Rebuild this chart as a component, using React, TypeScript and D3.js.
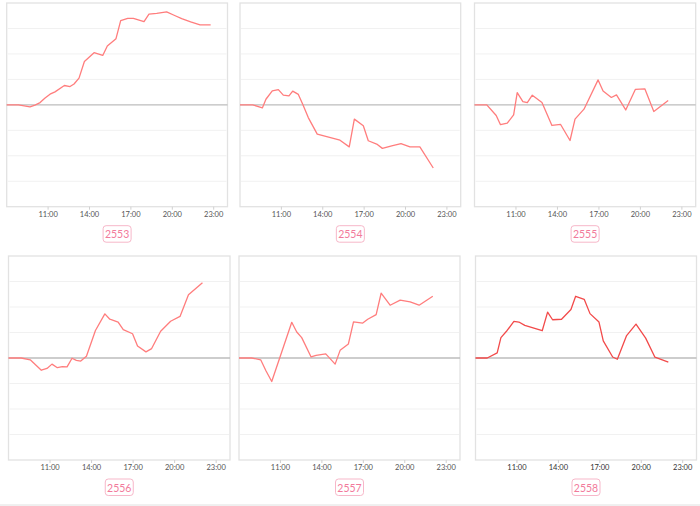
import React from "react";
import * as d3 from "d3";

// ---- data ----
const categories = ["2553", "2554", "2555", "2556", "2557", "2558"];
const tickHours = [11, 14, 17, 20, 23];
const tickLabels = ["11:00", "14:00", "17:00", "20:00", "23:00"];

const t2553 = [8.0, 8.85, 9.69, 10.05, 10.42, 10.78, 11.14, 11.5, 12.18, 12.59, 12.88, 13.24, 13.63, 14.33, 14.96, 15.29, 15.92, 16.26, 16.77, 17.18, 17.95, 18.31, 18.87, 19.59, 20.13, 20.68, 21.33, 22.01, 22.78];
const v2553 = [0, 0, -0.08, -0.01, 0.09, 0.27, 0.42, 0.51, 0.76, 0.72, 0.82, 1.05, 1.7, 2.05, 1.94, 2.31, 2.6, 3.31, 3.4, 3.4, 3.27, 3.56, 3.59, 3.65, 3.52, 3.39, 3.26, 3.14, 3.14];

const t2554 = [8.0, 8.92, 9.62, 9.88, 10.34, 10.78, 11.14, 11.55, 11.82, 12.23, 12.54, 12.95, 13.6, 15.25, 15.92, 16.29, 16.94, 17.3, 17.91, 18.32, 19.0, 19.67, 20.32, 21.04, 22.01];
const v2554 = [0, 0, -0.12, 0.22, 0.55, 0.6, 0.38, 0.35, 0.54, 0.41, 0.03, -0.5, -1.15, -1.39, -1.65, -0.56, -0.82, -1.41, -1.54, -1.71, -1.61, -1.52, -1.65, -1.65, -2.48];

const t2555 = [8.0, 8.89, 9.57, 9.88, 10.37, 10.83, 11.09, 11.5, 11.82, 12.18, 12.88, 13.6, 14.23, 14.91, 15.27, 15.92, 16.94, 17.3, 17.9, 18.27, 18.94, 19.64, 20.32, 20.97, 22.01];
const v2555 = [0, 0, -0.42, -0.78, -0.72, -0.39, 0.48, 0.13, 0.09, 0.38, 0.09, -0.81, -0.77, -1.4, -0.56, -0.17, 0.98, 0.54, 0.29, 0.39, -0.2, 0.61, 0.63, -0.26, 0.17];

const t2556 = [8.0, 8.92, 9.57, 10.37, 10.78, 11.14, 11.53, 11.89, 12.23, 12.59, 12.9, 13.22, 13.63, 14.28, 14.96, 15.32, 15.92, 16.29, 16.96, 17.32, 17.93, 18.34, 18.99, 19.71, 20.39, 21.0, 22.01];
const v2556 = [0, 0, -0.07, -0.48, -0.41, -0.24, -0.38, -0.34, -0.35, -0.01, -0.09, -0.12, 0.07, 1.08, 1.73, 1.52, 1.41, 1.11, 0.95, 0.47, 0.24, 0.37, 1.05, 1.44, 1.63, 2.48, 2.95];

const t2557 = [8.0, 8.92, 9.57, 9.96, 10.37, 10.97, 11.82, 12.18, 12.54, 13.22, 13.58, 14.28, 14.96, 15.32, 15.92, 16.29, 16.96, 17.32, 17.93, 18.29, 18.94, 19.67, 20.39, 21.04, 22.03];
const v2557 = [0, 0, -0.07, -0.51, -0.92, 0.04, 1.4, 1.02, 0.8, 0.04, 0.1, 0.16, -0.24, 0.3, 0.55, 1.42, 1.37, 1.52, 1.7, 2.54, 2.07, 2.27, 2.2, 2.07, 2.42];

const t2558 = [8.0, 8.85, 9.57, 9.84, 10.29, 10.78, 11.14, 11.57, 12.83, 13.22, 13.58, 14.23, 14.91, 15.25, 15.87, 16.29, 16.94, 17.25, 17.93, 18.27, 18.94, 19.62, 20.32, 20.99, 21.96];
const v2558 = [0, 0, 0.2, 0.8, 1.08, 1.44, 1.41, 1.28, 1.07, 1.8, 1.5, 1.52, 1.9, 2.42, 2.3, 1.74, 1.41, 0.67, 0.04, -0.05, 0.88, 1.33, 0.78, 0.03, -0.16];

const seriesTimes = [t2553, t2554, t2555, t2556, t2557, t2558];
const seriesValues = [v2553, v2554, v2555, v2556, v2557, v2558];

// ---- layout ----
const W = 700;
const H = 506;
const frames = [
  { x0: 6.7, x1: 227.5, y0: 3, y1: 206.7 },
  { x0: 240, x1: 460.7, y0: 3, y1: 206.7 },
  { x0: 474.5, x1: 695.7, y0: 3, y1: 206.7 },
  { x0: 8.5, x1: 230, y0: 256, y1: 460 },
  { x0: 239, x1: 460, y0: 256, y1: 460 },
  { x0: 475.5, x1: 696.5, y0: 256, y1: 460 },
];
const lineColors = ["#ff7d7d", "#ff7d7d", "#ff7d7d", "#ff7d7d", "#ff7d7d", "#f24a4a"];
const tickColors = ["#555", "#555", "#555", "#555", "#555", "#333"];

function Panel({ i }: { i: number }) {
  const f = frames[i];
  const x = d3.scaleLinear().domain([8, 24]).range([f.x0, f.x1]);
  const y = d3.scaleLinear().domain([-4, 4]).range([f.y1, f.y0]);
  const pts: [number, number][] = seriesTimes[i].map((t, k) => [t, seriesValues[i][k]]);
  const line = d3
    .line<[number, number]>()
    .x((d) => x(d[0]))
    .y((d) => y(d[1]));
  const grid = d3.range(-3, 4).filter((g) => g !== 0);
  const cx = (f.x0 + f.x1) / 2;
  const by = f.y1 + 27;
  return (
    <g>
      <rect x={f.x0} y={f.y0} width={f.x1 - f.x0} height={f.y1 - f.y0} fill="#fff" stroke="#e2e2e2" strokeWidth={1.3} />
      {grid.map((g) => (
        <line key={g} x1={f.x0 + 1} x2={f.x1 - 1} y1={y(g)} y2={y(g)} stroke="#f1f1f1" strokeWidth={1} />
      ))}
      <line x1={f.x0} x2={f.x1} y1={y(0)} y2={y(0)} stroke="#bdbdbd" strokeWidth={1.4} />
      {tickHours.map((h, k) => (
        <g key={h}>
          <line x1={x(h)} x2={x(h)} y1={f.y1} y2={f.y1 + 3} stroke="#d0d0d0" strokeWidth={1} />
          <text x={x(h)} y={f.y1 + 7.5} dominantBaseline="central" textAnchor="middle" fontSize={7.5} fill={tickColors[i]} fontFamily="Lato, sans-serif">
            {tickLabels[k]}
          </text>
        </g>
      ))}
      <path d={line(pts) || ""} fill="none" stroke={lineColors[i]} strokeWidth={1.3} strokeLinejoin="round" />
      <rect x={cx - 14} y={by - 8} width={28} height={16.5} rx={3} fill="#fff" stroke="#f7b7c9" strokeWidth={1} />
      <text x={cx} y={by + 0.5} dominantBaseline="central" textAnchor="middle" fontSize={10.5} fill="#f27a9b" fontFamily="Lato, sans-serif">
        {categories[i]}
      </text>
    </g>
  );
}

export default function App() {
  return (
    <svg width={W} height={H} style={{ position: "absolute", left: 0, top: 0, background: "#fff" }}>
      <rect x={0} y={0} width={W} height={H} fill="#fff" />
      {categories.map((c, i) => (
        <Panel key={c} i={i} />
      ))}
      <line x1={0} x2={W} y1={505} y2={505} stroke="#e0e0e0" strokeWidth={1} />
    </svg>
  );
}
